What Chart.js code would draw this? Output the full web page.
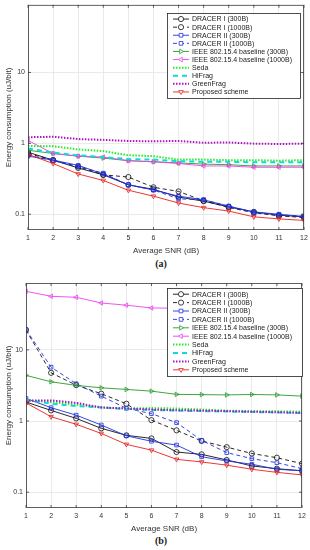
<!DOCTYPE html>
<html><head><meta charset="utf-8">
<script src="https://cdn.jsdelivr.net/npm/chart.js@4/dist/chart.umd.min.js"></script>
<style>
html,body{margin:0;padding:0;background:#fff;width:310px;height:550px;overflow:hidden}
.wrap{position:absolute;left:0;width:310px}
.cap{position:absolute;width:310px;left:6px;text-align:center;font:bold 10px "Liberation Serif","DejaVu Serif",serif;color:#222}
</style></head>
<body>
<div class="wrap" style="top:0;height:256px"><canvas id="ca" width="310" height="256"></canvas></div>
<div class="cap" style="top:258px">(a)</div>
<div class="wrap" style="top:278px;height:256px"><canvas id="cb" width="310" height="256"></canvas></div>
<div class="cap" style="top:535px">(b)</div>
<script>
const snr = [1,2,3,4,5,6,7,8,9,10,11,12];
const seriesNames = ["DRACER I (300B)","DRACER I (1000B)","DRACER II (300B)","DRACER II (1000B)","IEEE 802.15.4 baseline (300B)","IEEE 802.15.4 baseline (1000B)","Seda","HiFrag","GreenFrag","Proposed scheme"];
const yTickValues = [0.1, 1, 10];
const yTickLabels = ["0.1", "1", "10"];

// (a)
const a_dracer1_300  = [0.75,0.58,0.45,0.36,0.26,0.225,0.175,0.153,0.127,0.108,0.097,0.092];
const a_dracer1_1000 = [0.72,0.58,0.47,0.36,0.335,0.24,0.21,0.155,0.125,0.105,0.095,0.09];
const a_dracer2_300  = [0.66,0.58,0.49,0.37,0.26,0.22,0.18,0.16,0.13,0.108,0.1,0.093];
const a_dracer2_1000 = [0.68,0.57,0.47,0.38,0.26,0.22,0.165,0.16,0.13,0.105,0.098,0.094];
const a_ieee_300     = [0.80,0.72,0.66,0.62,0.57,0.55,0.53,0.51,0.50,0.48,0.48,0.48];
const a_ieee_1000    = [1.10,0.72,0.66,0.64,0.57,0.55,0.52,0.48,0.48,0.46,0.46,0.46];
const a_seda         = [0.92,0.91,0.82,0.78,0.68,0.66,0.59,0.59,0.58,0.58,0.57,0.58];
const a_hifrag       = [0.85,0.74,0.68,0.64,0.60,0.59,0.56,0.55,0.55,0.54,0.54,0.54];
const a_greenfrag    = [1.22,1.24,1.15,1.12,1.08,1.07,1.08,1.02,1.03,0.99,0.98,0.99];
const a_proposed     = [0.70,0.52,0.37,0.30,0.218,0.18,0.144,0.124,0.111,0.092,0.086,0.082];

// (b)
const b_dracer1_300  = [1.85,1.41,1.09,0.79,0.63,0.57,0.367,0.34,0.284,0.234,0.214,0.2];
const b_dracer1_1000 = [19,4.76,3.2,2.42,1.75,1.03,0.74,0.524,0.43,0.35,0.305,0.252];
const b_dracer2_300  = [2.08,1.54,1.21,0.88,0.62,0.52,0.46,0.315,0.275,0.247,0.21,0.2];
const b_dracer2_1000 = [19.3,5.72,3.34,2.24,1.51,1.27,0.95,0.535,0.36,0.296,0.26,0.214];
const b_ieee_300     = [4.38,3.56,3.17,2.93,2.78,2.63,2.37,2.35,2.33,2.36,2.33,2.24];
const b_ieee_1000    = [66.5,56.6,54.8,45.6,42.4,38.8,38.5,38,37.8,37.8,37.6,37.6];
const b_seda         = [1.95,1.85,1.7,1.55,1.5,1.52,1.5,1.45,1.4,1.38,1.37,1.35];
const b_hifrag       = [2.0,1.75,1.62,1.55,1.47,1.43,1.4,1.38,1.36,1.34,1.32,1.3];
const b_greenfrag    = [1.95,1.95,1.8,1.55,1.5,1.45,1.42,1.4,1.38,1.35,1.33,1.3];
const b_proposed     = [1.8,1.15,0.9,0.67,0.47,0.39,0.29,0.266,0.24,0.21,0.19,0.175];

const styles = [
  {c:'#111111', dash:[], w:0.9, ps:'circle', rot:0},
  {c:'#111111', dash:[4,3], w:0.9, ps:'circle', rot:0},
  {c:'#2030e0', dash:[], w:0.9, ps:'rect', rot:0},
  {c:'#2030e0', dash:[4,3], w:0.9, ps:'rect', rot:0},
  {c:'#2a9a2a', dash:[], w:0.9, ps:'triangle', rot:90},
  {c:'#f040f0', dash:[], w:0.9, ps:'triangle', rot:-90},
  {c:'#22ee22', dash:[1.5,1.5], w:2, ps:false, rot:0},
  {c:'#10d8e0', dash:[5,4], w:2, ps:false, rot:0},
  {c:'#b010c0', dash:[1.5,1.5], w:2, ps:false, rot:0},
  {c:'#e82020', dash:[], w:0.9, ps:'triangle', rot:180}
];

function makeDatasets(arrs){
  return arrs.map((arr,i)=>{
    const s = styles[i];
    return {
      label: seriesNames[i],
      data: snr.map((x,k)=>({x:x, y:arr[k]})),
      borderColor: s.c, backgroundColor: s.c,
      borderWidth: s.w, borderDash: s.dash,
      pointStyle: s.ps || 'circle', pointRotation: s.rot,
      pointRadius: s.ps ? 2.6 : 0, pointBorderWidth: 0.8,
      pointBackgroundColor: 'rgba(0,0,0,0)', pointBorderColor: s.c,
      tension: 0, order: 20 - i, fill: false
    };
  });
}

function labelFor(v){
  for (let k = 0; k < yTickValues.length; k++){
    if (Math.abs(Math.log10(v) - Math.log10(yTickValues[k])) < 1e-6) return yTickLabels[k];
  }
  return '';
}

const frame = {
  id: 'frame',
  afterDraw(chart, args, opts){
    const ctx = chart.ctx, a = chart.chartArea;
    ctx.save();
    ctx.strokeStyle = '#3a3a3a'; ctx.lineWidth = 0.8; ctx.setLineDash([]);
    ctx.strokeRect(a.left+0.5, a.top+0.5, a.right-a.left-1, a.bottom-a.top-1);
    const xs = chart.scales.x, ys = chart.scales.y;
    ctx.beginPath();
    snr.forEach(v=>{ const px = xs.getPixelForValue(v);
      ctx.moveTo(px, a.top); ctx.lineTo(px, a.top+3);
      ctx.moveTo(px, a.bottom); ctx.lineTo(px, a.bottom-3); });
    yTickValues.forEach(v=>{ const py = ys.getPixelForValue(v);
      ctx.moveTo(a.left, py); ctx.lineTo(a.left+3, py);
      ctx.moveTo(a.right, py); ctx.lineTo(a.right-3, py); });
    ctx.stroke();
    const L = opts.box; const n = chart.data.datasets.length;
    ctx.fillStyle = '#fff';
    ctx.fillRect(L.l, L.t, L.r-L.l, L.b-L.t);
    ctx.strokeStyle = '#222'; ctx.lineWidth = 0.8;
    ctx.strokeRect(L.l+0.5, L.t+0.5, L.r-L.l, L.b-L.t);
    const rh = (L.b-L.t-4)/n;
    chart.data.datasets.forEach((d,i)=>{
      const cy = L.t + 2 + rh*(i+0.5);
      const x0 = L.l+6, x1 = L.l+22, xm = (x0+x1)/2;
      ctx.strokeStyle = d.borderColor; ctx.lineWidth = d.borderWidth;
      ctx.setLineDash(d.borderDash);
      ctx.beginPath(); ctx.moveTo(x0, cy); ctx.lineTo(x1, cy); ctx.stroke();
      ctx.setLineDash([]);
      if (d.pointRadius > 0){
        ctx.lineWidth = 0.8;
        ctx.fillStyle = '#ffffff';
        ctx.strokeStyle = d.borderColor;
        Chart.helpers.drawPoint(ctx, {pointStyle:d.pointStyle, rotation:d.pointRotation, radius:2.6, borderWidth:0.8}, xm, cy);
      }
      ctx.font = '7px "Liberation Sans", Arial, sans-serif';
      ctx.textBaseline = 'middle'; ctx.textAlign = 'left';
      ctx.fillStyle = '#222';
      ctx.fillText(d.label, L.l+25, cy+0.5);
    });
    ctx.restore();
  }
};

function makeChart(id, arrs, ymax, leftW, box, pad){
  return new Chart(document.getElementById(id), {
    type: 'line',
    data: { datasets: makeDatasets(arrs) },
    options: {
      responsive: false, animation: false, devicePixelRatio: 1,
      layout: { padding: pad },
      plugins: { legend: {display:false}, tooltip: {enabled:false}, frame: {box: box} },
      scales: {
        x: {
          type: 'linear', min: 1, max: 12,
          ticks: { stepSize: 1, color: '#333', font: {size: 7, family: '"Liberation Sans", Arial'}, padding: 4 },
          grid: { color: '#e4e4e4', lineWidth: 0.8, drawTicks: false },
          border: { display: false },
          title: { display: true, text: 'Average SNR (dB)', color: '#333', font: {size: 8, family: '"Liberation Sans", Arial'}, padding: {top: 2, bottom: 0} },
          afterFit(s){ s.height = 26; s.paddingLeft = 0; s.paddingRight = 0; }
        },
        y: {
          type: 'logarithmic', min: 0.06, max: ymax,
          afterBuildTicks(s){ s.ticks = yTickValues.map(v=>({value:v, major:true})); },
          ticks: { color: '#333', font: {size: 7, family: '"Liberation Sans", Arial'}, padding: 3, autoSkip: false,
                   callback: (v)=>labelFor(v) },
          grid: { color: '#e4e4e4', lineWidth: 0.8, drawTicks: false },
          border: { display: false },
          title: { display: true, text: 'Energy consumption (uJ/bit)', color: '#333', font: {size: 8, family: '"Liberation Sans", Arial'}, padding: {top: 4, bottom: 0} },
          afterFit(s){ s.width = leftW; s.paddingTop = 0; s.paddingBottom = 0; }
        }
      }
    },
    plugins: [frame]
  });
}

makeChart('ca', [a_dracer1_300,a_dracer1_1000,a_dracer2_300,a_dracer2_1000,a_ieee_300,a_ieee_1000,a_seda,a_hifrag,a_greenfrag,a_proposed],
  90, 28, {l:167, t:13, r:300, b:98}, {top:4, right:6, left:0, bottom:0});
makeChart('cb', [b_dracer1_300,b_dracer1_1000,b_dracer2_300,b_dracer2_1000,b_ieee_300,b_ieee_1000,b_seda,b_hifrag,b_greenfrag,b_proposed],
  87, 26, {l:167, t:10, r:302, b:98}, {top:5, right:8, left:0, bottom:0});
</script>
</body></html>
